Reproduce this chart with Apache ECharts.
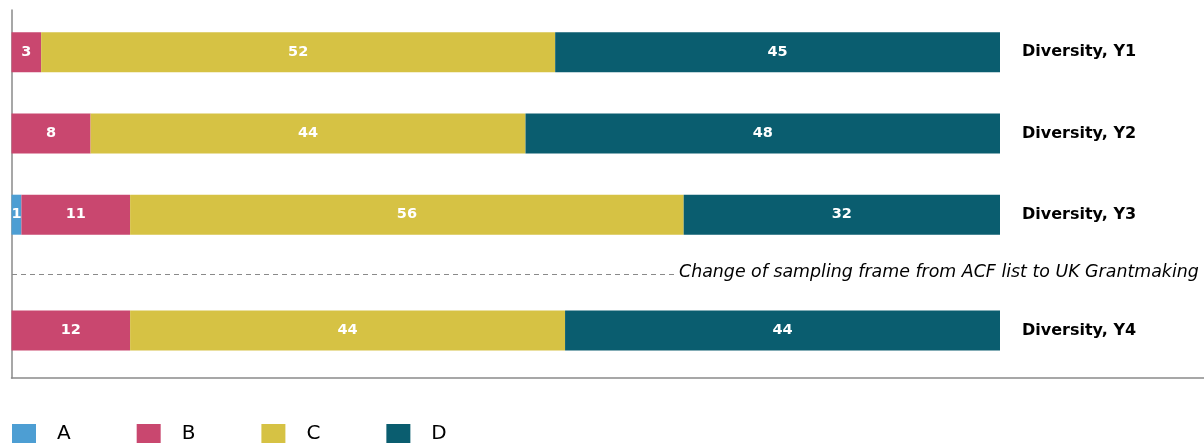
<!DOCTYPE html>
<html><head><meta charset="utf-8">
<script src="https://cdn.jsdelivr.net/npm/echarts@6/dist/echarts.min.js"></script>
<style>html,body{margin:0;padding:0;background:#fff}#c{width:1204px;height:443px}</style>
</head><body><div id="c"></div>
<script>
const seriesNames = ['A', 'B', 'C', 'D'];
const colors = ['#4d9ed3', '#c9476f', '#d6c244', '#0a5d6f'];
const topCategories = ['Diversity, Y1', 'Diversity, Y2', 'Diversity, Y3'];
const topA = [0, 0, 1];
const topB = [3, 8, 11];
const topC = [52, 44, 56];
const topD = [45, 48, 32];
const bottomCategories = ['Diversity, Y4'];
const bottomA = [0];
const bottomB = [12];
const bottomC = [44];
const bottomD = [44];
const separatorText = 'Change of sampling frame from ACF list to UK Grantmaking';

const chart = echarts.init(document.getElementById('c'), null, {renderer: 'canvas'});
const FONT = 'DejaVu Sans';
const topVals = [topA, topB, topC, topD];
const botVals = [bottomA, bottomB, bottomC, bottomD];

function mk(name, color, data, idx, stack) {
  return {
    name, type: 'bar', stack, xAxisIndex: idx, yAxisIndex: idx,
    data: data.map(v => v === 0 ? null : v),
    barWidth: 40,
    itemStyle: {color},
    label: {show: true, position: 'inside', color: '#fff', fontWeight: 'bold', fontSize: 14.5, fontFamily: FONT},
    emphasis: {disabled: true}, animation: false
  };
}
const series = [];
seriesNames.forEach((n, i) => series.push(mk(n, colors[i], topVals[i], 0, 'top')));
seriesNames.forEach((n, i) => series.push(mk(n, colors[i], botVals[i], 1, 'bot')));

const catAxis = (cats, idx) => ({
  type: 'category', gridIndex: idx, data: cats, inverse: true, position: 'right',
  axisLine: {show: false}, axisTick: {show: false},
  axisLabel: {margin: 22, color: '#000', fontWeight: 'bold', fontSize: 16, fontFamily: FONT, align: 'left'}
});
const valAxis = idx => ({
  type: 'value', gridIndex: idx, min: 0, max: 100, show: false
});

chart.setOption({
  animation: false,
  grid: [
    {left: 11.5, right: 204, top: 11.7, height: 243.6},
    {left: 11.5, right: 204, top: 283, height: 95},
    {left: 11.5, right: 0, top: 10, bottom: 65}
  ],
  xAxis: [valAxis(0), valAxis(1),
    {type: 'value', gridIndex: 2, min: 0, max: 1,
     axisLine: {show: true, onZero: false, lineStyle: {color: '#8a8a8a', width: 1.5}},
     axisTick: {show: false}, axisLabel: {show: false}, splitLine: {show: false}}],
  yAxis: [catAxis(topCategories, 0), catAxis(bottomCategories, 1),
    {type: 'value', gridIndex: 2, min: 0, max: 1,
     axisLine: {show: true, onZero: false, lineStyle: {color: '#8a8a8a', width: 1.5}},
     axisTick: {show: false}, axisLabel: {show: false}, splitLine: {show: false}}],
  legend: {
    data: seriesNames, left: 12, top: 424, padding: 0, itemWidth: 24, itemHeight: 20, itemGap: 66,
    icon: 'rect',
    textStyle: {fontSize: 20, fontFamily: FONT, color: '#000', padding: [0, 0, 0, 16]}
  },
  graphic: [
    {type: 'line', shape: {x1: 12, y1: 274.5, x2: 675, y2: 274.5},
     style: {stroke: '#8a8a8a', lineWidth: 1, lineDash: [5, 4]}},
    {type: 'text', left: 679, top: 264,
     style: {text: separatorText, fontFamily: FONT, fontStyle: 'italic', fontSize: 17.4, fill: '#000'}}
  ],
  series
});
</script></body></html>
